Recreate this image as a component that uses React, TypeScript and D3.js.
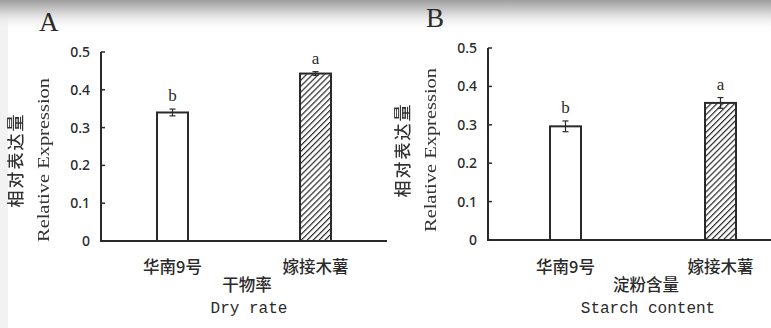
import React from "react";
import * as d3 from "d3";

const categories = ["华南9号", "嫁接木薯"];
const yTicks = [0, 0.1, 0.2, 0.3, 0.4, 0.5];

const dryRateValues = [0.34, 0.443];
const dryRateErrors = [0.009, 0.005];
const dryRateLetters = ["b", "a"];

const starchValues = [0.296, 0.357];
const starchErrors = [0.014, 0.014];
const starchLetters = ["b", "a"];

const W = 771;
const H = 328;
const ink = "#2a2a2a";
const cjk = "'Noto Sans CJK SC', sans-serif";

type PanelProps = {
  tag: string;
  values: number[];
  errors: number[];
  letters: string[];
  titleCn: string;
  titleEn: string;
  axisX: number;
  axisEnd: number;
  y0: number;
  yTop: number;
  yTitleY: number;
};

const Panel = (p: PanelProps) => {
  const y = d3.scaleLinear().domain([0, 0.5]).range([p.y0, p.yTop]);
  const x = d3.scalePoint<string>().domain(categories).range([p.axisX, p.axisEnd]).padding(0.5);
  const bw = 31;
  const mid = (p.axisX + p.axisEnd) / 2;

  return (
    <g>
      <text x={p.axisX - 62} y={p.yTop - 21} fontFamily="'Liberation Serif', serif" fontSize={27} fill={ink}>
        {p.tag}
      </text>

      {/* y axis titles */}
      <g filter="url(#gray)">
        <g transform={`translate(${p.axisX - 79},${p.yTitleY}) rotate(-90)`}>
          <text textAnchor="middle" fontFamily={cjk} fontWeight={500} fontSize={17} letterSpacing={2} fill="#333">
            相对表达量
          </text>
        </g>
        <g transform={`translate(${p.axisX - 52},${p.yTitleY}) rotate(-90)`}>
          <text textAnchor="middle" fontFamily="'Liberation Serif', serif" fontSize={17} fill="#333" textLength={164} lengthAdjust="spacingAndGlyphs">
            Relative Expression
          </text>
        </g>
      </g>

      {/* bars */}
      {categories.map((c, i) => {
        const cx = x(c)!;
        const top = y(p.values[i]);
        const eTop = y(p.values[i] + p.errors[i]);
        const eBot = y(p.values[i] - p.errors[i]);
        return (
          <g key={c}>
            <rect
              x={cx - bw / 2}
              y={top}
              width={bw}
              height={p.y0 - top}
              fill={i === 0 ? "#fff" : "url(#hatch)"}
              stroke={ink}
              strokeWidth={2}
            />
            <line x1={cx} x2={cx} y1={eTop} y2={eBot} stroke={ink} strokeWidth={1.2} />
            <line x1={cx - 3} x2={cx + 3} y1={eTop} y2={eTop} stroke={ink} strokeWidth={1.2} />
            <line x1={cx - 3} x2={cx + 3} y1={eBot} y2={eBot} stroke={ink} strokeWidth={1.2} />
            <text x={cx} y={eTop - 8} textAnchor="middle" fontFamily="'Liberation Serif', serif" fontSize={17} fill={ink}>
              {p.letters[i]}
            </text>
            <text x={cx} y={273} textAnchor="middle" fontFamily={cjk} fontWeight={500} fontSize={16.5} fill={ink}>
              {c}
            </text>
          </g>
        );
      })}

      {/* axes */}
      <line x1={p.axisX} x2={p.axisX} y1={p.yTop} y2={p.y0} stroke={ink} strokeWidth={2} />
      <line x1={p.axisX - 1} x2={p.axisEnd} y1={p.y0} y2={p.y0} stroke={ink} strokeWidth={2} />
      {yTicks.map((t) => (
        <g key={t}>
          <line x1={p.axisX} x2={p.axisX + 4} y1={y(t)} y2={y(t)} stroke={ink} strokeWidth={1.5} />
          <text
            x={p.axisX - 11}
            y={y(t)}
            dy="0.35em"
            textAnchor="end"
            fontFamily="'Noto Sans', sans-serif"
            fontWeight={500}
            fontSize={14}
            fill={ink}
          >
            {t === 0 ? "0" : t.toFixed(1)}
          </text>
        </g>
      ))}

      <text x={mid + 3} y={291} textAnchor="middle" fontFamily={cjk} fontWeight={500} fontSize={16.5} fill={ink}>
        {p.titleCn}
      </text>
      <text x={mid + 5} y={313} textAnchor="middle" fontFamily="'Liberation Mono', 'DejaVu Sans Mono', monospace" fontSize={16} fill={ink}>
        {p.titleEn}
      </text>
    </g>
  );
};

export default function App() {
  return (
    <svg
      width={W}
      height={H}
      style={{ position: "absolute", left: 0, top: 0, background: "#fff" }}
    >
      <defs>
        <filter id="gray" x="-10%" y="-10%" width="120%" height="120%">
          <feColorMatrix type="saturate" values="0" />
        </filter>
        <linearGradient id="topShade" x1="0" y1="0" x2="0" y2="1">
          <stop offset="0" stopColor="#9e9e9e" />
          <stop offset="0.45" stopColor="#dcdcdc" />
          <stop offset="1" stopColor="#ffffff" stopOpacity={0} />
        </linearGradient>
        <pattern id="hatch" patternUnits="userSpaceOnUse" width={4.2} height={4.2} patternTransform="rotate(45)">
          <rect width={4.2} height={4.2} fill="#fff" />
          <line x1={0} y1={0} x2={0} y2={4.2} stroke="#2a2a2a" strokeWidth={2.4} />
        </pattern>
      </defs>
      <rect x={0} y={0} width={W} height={H} fill="#fff" />
      <rect x={0} y={0} width={8} height={H} fill="#f2f2f2" />
      <rect x={0} y={0} width={W} height={32} fill="url(#topShade)" />

      <Panel
        tag="A"
        values={dryRateValues}
        errors={dryRateErrors}
        letters={dryRateLetters}
        titleCn="干物率"
        titleEn="Dry rate"
        axisX={101}
        axisEnd={387}
        y0={241}
        yTop={52}
        yTitleY={160}
      />
      <Panel
        tag="B"
        values={starchValues}
        errors={starchErrors}
        letters={starchLetters}
        titleCn="淀粉含量"
        titleEn="Starch content"
        axisX={488}
        axisEnd={798}
        y0={240}
        yTop={48}
        yTitleY={150}
      />
    </svg>
  );
}
